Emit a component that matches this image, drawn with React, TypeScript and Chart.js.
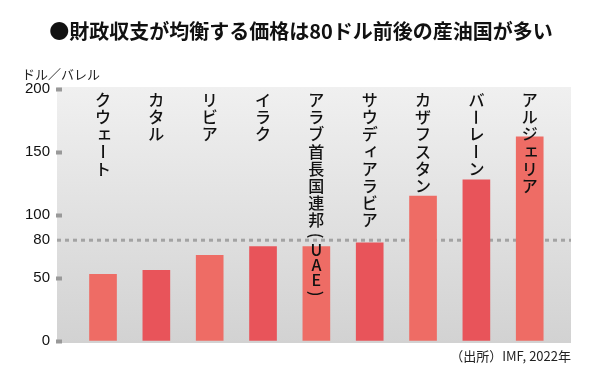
import { useEffect, useRef } from 'react';
import { Chart, registerables } from 'chart.js';

Chart.register(...registerables);

const countries = [
  'クウェート',
  'カタル',
  'リビア',
  'イラク',
  'アラブ首長国連邦(UAE)',
  'サウディアラビア',
  'カザフスタン',
  'バーレーン',
  'アルジェリア',
];
const breakevenPrices = [53, 56, 68, 75, 75, 78, 115, 128, 162];
const yTicks = [0, 50, 80, 100, 150, 200];
const referenceLine = 80;
const titleText = '●財政収支が均衡する価格は80ドル前後の産油国が多い';
const unitText = 'ドル／バレル';
const sourceText = '（出所）IMF, 2022年';
const barColors = ['#ee6c65', '#e8545a'];

const JP = '"Noto Sans CJK JP", "Noto Sans", sans-serif';
const LAT = '"Liberation Sans", Arial, sans-serif';

const SMALL = 'ァィゥェォャュョッ';
const ROTATE = 'ー()（）';

function drawVertical(ctx: CanvasRenderingContext2D, text: string, x: number, y0: number) {
  const full = 17.2;
  let y = y0;
  let prevAdv = 0;
  const chars = Array.from(text);
  chars.forEach((ch, idx) => {
    let adv = full;
    if (ch === '(' || ch === ')' || ch === '（' || ch === '）') adv = 13;
    else if (/[A-Za-z0-9]/.test(ch)) adv = 15;
    if (idx > 0) y += prevAdv / 2 + adv / 2;
    prevAdv = adv;
    ctx.save();
    ctx.translate(x, y);
    if (ROTATE.includes(ch)) ctx.rotate(Math.PI / 2);
    let dx = 0;
    let dy = 0;
    if (SMALL.includes(ch)) {
      dx = 1.5;
      dy = -1.5;
    }
    ctx.fillText(ch, dx, dy);
    ctx.restore();
  });
}

const decorPlugin = {
  id: 'decor',
  beforeDraw(chart: any) {
    const { ctx, chartArea } = chart;
    const left = chartArea.left - 5;
    const top = chartArea.top - 2;
    const bottom = chartArea.bottom + 2;
    const g = ctx.createLinearGradient(0, top, 0, bottom);
    g.addColorStop(0, '#f0f0f0');
    g.addColorStop(1, '#d2d2d2');
    ctx.save();
    ctx.fillStyle = g;
    ctx.fillRect(left, top, chartArea.right - left, bottom - top);
    ctx.restore();
  },
  beforeDatasetsDraw(chart: any) {
    const { ctx, chartArea, scales } = chart;
    const y = scales.y.getPixelForValue(referenceLine);
    ctx.save();
    ctx.strokeStyle = '#a3a3a3';
    ctx.lineWidth = 3;
    ctx.setLineDash([4, 4]);
    ctx.beginPath();
    ctx.moveTo(chartArea.left - 5, y);
    ctx.lineTo(chartArea.right, y);
    ctx.stroke();
    ctx.restore();
  },
  afterDatasetsDraw(chart: any) {
    const { ctx, chartArea, scales } = chart;
    ctx.save();
    ctx.fillStyle = '#111';
    ctx.font = `500 16px ${JP}`;
    ctx.textAlign = 'center';
    ctx.textBaseline = 'middle';
    countries.forEach((name, i) => {
      const x = scales.x.getPixelForValue(i);
      drawVertical(ctx, name, x, chartArea.top + 11);
    });
    ctx.restore();
  },
  afterDraw(chart: any) {
    const { ctx } = chart;
    ctx.save();
    ctx.fillStyle = '#111';
    ctx.textBaseline = 'middle';
    ctx.textAlign = 'center';
    ctx.font = `bold 20px ${JP}`;
    ctx.fillText(titleText, 301, 31);
    ctx.textAlign = 'left';
    ctx.font = `13px ${JP}`;
    ctx.fillStyle = '#222';
    ctx.fillText(unitText, 22, 74);
    ctx.textAlign = 'right';
    ctx.fillText(sourceText, 571, 356);
    ctx.restore();
  },
};

export default function App() {
  const ref = useRef<HTMLCanvasElement | null>(null);
  useEffect(() => {
    const canvas = ref.current;
    if (!canvas) return;
    const chart = new Chart(canvas, {
      type: 'bar',
      data: {
        datasets: [
          {
            data: breakevenPrices.map((v, i) => ({ x: i, y: v })) as any,
            backgroundColor: breakevenPrices.map((_, i) => barColors[i % 2]),
            barThickness: 27,
            borderWidth: 0,
          },
        ],
      },
      options: {
        responsive: false,
        animation: false,
        devicePixelRatio: 1,
        layout: { padding: { top: 89, bottom: 40, right: 29, left: 0 } },
        plugins: { legend: { display: false }, tooltip: { enabled: false }, title: { display: false } },
        scales: {
          x: { type: 'linear', display: false, offset: false, min: -0.769, max: 8.774 },
          y: {
            min: 0,
            max: 200,
            afterBuildTicks: (s: any) => {
              s.ticks = yTicks.map((v) => ({ value: v }));
            },
            afterFit: (s: any) => {
              s.width = 62;
            },
            border: { display: false },
            grid: {
              drawOnChartArea: false,
              drawTicks: true,
              tickLength: 6,
              tickWidth: 4,
              tickColor: (c: any) => (c.tick && c.tick.value === referenceLine ? 'rgba(0,0,0,0)' : '#999'),
            },
            ticks: {
              padding: 6,
              autoSkip: false,
              color: '#111',
              font: { family: LAT, size: 15 },
            },
          },
        },
      } as any,
      plugins: [decorPlugin],
    });
    return () => chart.destroy();
  }, []);
  return (
    <div style={{ position: 'fixed', left: 0, top: 0, width: 600, height: 381, background: '#fff' }}>
      <canvas ref={ref} width={600} height={381} style={{ display: 'block', width: 600, height: 381 }} />
    </div>
  );
}
